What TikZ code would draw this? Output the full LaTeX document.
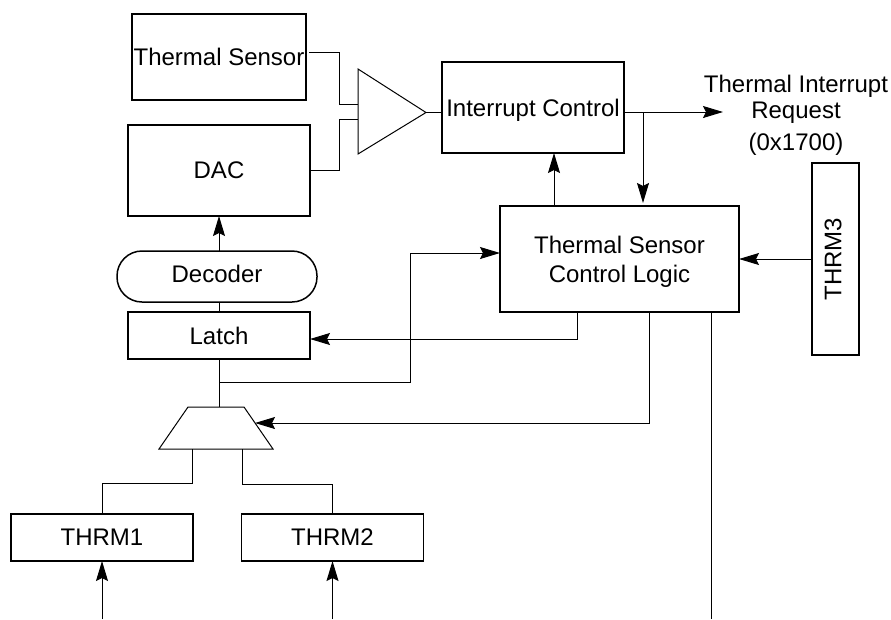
\documentclass[tikz,border=0pt]{standalone}
\usepackage{fontspec}
\setmainfont{Liberation Sans}
\usetikzlibrary{calc,arrows.meta}
\tikzstyle{blk}=[rectangle,draw=black,line width=1.5pt,outer sep=0pt,inner sep=0pt,align=center,text depth=0pt]
\tikzstyle{wire}=[line width=1pt]
\tikzstyle{arr}=[line width=1pt,-{Stealth[length=20pt,width=12pt,inset=3pt]}]
\begin{document}
\begin{tikzpicture}[x=1pt,y=-1pt,font=\fontsize{24}{29}\selectfont]
		\useasboundingbox (0,0) rectangle (891,619);
		\node [blk,minimum width=174pt,minimum height=86pt] (sensor) at (219,57) {Thermal Sensor};
		\node [blk,minimum width=182pt,minimum height=91pt] (dac) at (219,170.5) {DAC};
		\node [blk,minimum width=182pt,minimum height=91pt] (intr) at (533,107.5) {Interrupt Control};
		\node [blk,minimum width=239pt,minimum height=106pt] (logic) at (619.5,259) {Thermal Sensor\\Control Logic};
		\node [blk,minimum width=47pt,minimum height=192pt] (thrmc) at (835.5,259) {};
		\node [rotate=90,inner sep=0pt] (thrmclabel) at (833,259) {THRM3};
		\node [blk,rounded corners=25pt,text depth=6pt,minimum width=200pt,minimum height=51pt] (decoder) at (217,276.5) {Decoder};
		\node [blk,minimum width=182pt,minimum height=47pt] (latch) at (219,335.5) {Latch};
		\node [blk,minimum width=182pt,minimum height=47pt] (thrma) at (102,537.5) {THRM1};
		\node [blk,minimum width=182pt,minimum height=47pt] (thrmb) at (332.5,537.5) {THRM2};
		\node [align=center,inner sep=0pt,font=\fontsize{24}{26}\selectfont] (req) at (796,115) {Thermal Interrupt\\Request\\[6pt](0x1700)};
		% comparator and mux
		\coordinate (cmpa) at (358,69);
		\coordinate (cmpb) at (358,154);
		\coordinate (cmpc) at (426,112.5);
		\coordinate (muxa) at (188,407);
		\coordinate (muxb) at (244,407);
		\coordinate (muxc) at (273,449);
		\coordinate (muxd) at (159,449);
		\draw [wire] (cmpa)--(cmpc)--(cmpb)--cycle;
		\draw [wire] (muxa)--(muxb)--(muxc)--(muxd)--cycle;
		% wires
		\coordinate (sensorout) at ($ (sensor.east) + (3,-5) $);
		\draw [wire] (sensorout)--(339,52)--(339,104)--(cmpa |- 0,104);
		\draw [wire] (dac.east)--(339,170.5)--(339,119)--(cmpa |- 0,119);
		\draw [wire] (cmpc)--(cmpc -| intr.west);
		\draw [arr] (logic.north -| 554,0)--(554,153);
		\draw [arr] (intr.east |- 0,112)--(723,112);
		\draw [arr] (643,112)--(643,203);
		\draw [arr] (thrmc.west)--(logic.east);
		\draw [arr] (dac.south |- decoder.north)--(dac.south);
		\draw [wire] (decoder.south -| latch.north)--(latch.north);
		\draw [arr] (577,312)--(577,339)--(latch.east |- 0,339);
		\draw [wire] (latch.south)--(latch.south |- muxa);
		\draw [arr] (219,382)--(410.5,382)--(410.5,253)--(logic.west |- 0,253);
		\draw [arr] (649,312)--(649,423)--(255,423);
		\draw [wire] (thrma.north)--(102,483)--(192.5,483)--(192.5,449);
		\draw [wire] (thrmb.north)--(332.5,484)--(242,484)--(242,449);
		\coordinate (ina) at (102,619);
		\coordinate (inb) at (332.5,619);
		\coordinate (logicout) at (711,619);
		\draw [arr] (ina)--(thrma.south);
		\draw [arr] (inb)--(thrmb.south);
		\draw [wire] (711,312)--(logicout);
\end{tikzpicture}
\end{document}
